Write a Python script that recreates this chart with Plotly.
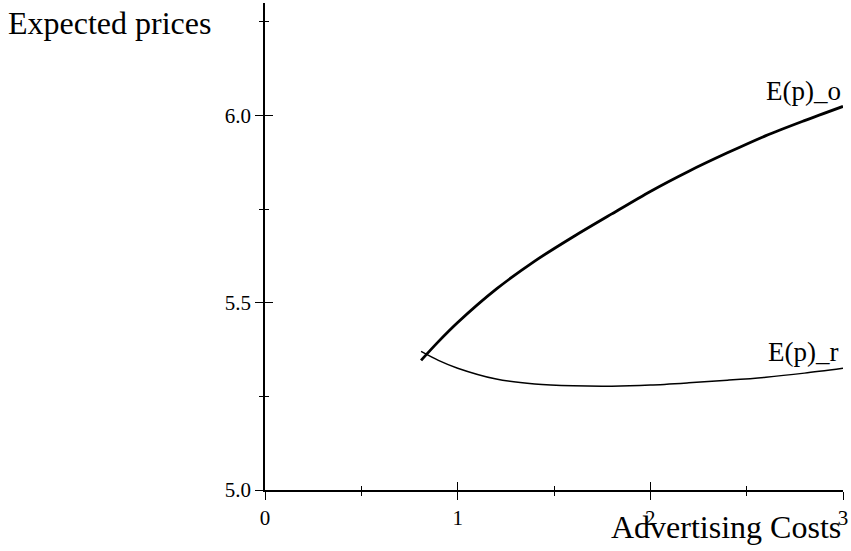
import plotly.graph_objects as go

# Data
adv_costs = [0.81, 0.9, 1.0, 1.2, 1.4, 1.6, 1.8, 2.0, 2.2, 2.4, 2.6, 2.8, 3.0]
price_o = [5.346, 5.396, 5.447, 5.536, 5.611, 5.676, 5.737, 5.797, 5.851, 5.900, 5.946, 5.986, 6.024]
price_r = [5.370, 5.346, 5.325, 5.296, 5.283, 5.278, 5.277, 5.280, 5.286, 5.293, 5.301, 5.312, 5.325]
label_o = "E(p)_o"
label_r = "E(p)_r"
x_title = "Advertising Costs"
y_title = "Expected prices"
x_range = [0, 3]
y_range = [5.0, 6.3]

FONT = "Liberation Serif, Times New Roman, serif"

fig = go.Figure()
fig.add_trace(go.Scatter(x=adv_costs, y=price_o, mode="lines",
                         line=dict(color="black", width=2.8, shape="spline", smoothing=0.8),
                         showlegend=False, hoverinfo="skip"))
fig.add_trace(go.Scatter(x=adv_costs, y=price_r, mode="lines",
                         line=dict(color="black", width=1.5, shape="spline", smoothing=0.8),
                         showlegend=False, hoverinfo="skip", xaxis="x2", yaxis="y2"))

axis_common = dict(showgrid=False, zeroline=False, showline=True, linecolor="black", linewidth=1.6,
                   tickcolor="black", tickwidth=1.3, ticklen=8,
                   tickfont=dict(family=FONT, size=21, color="black"))

fig.update_layout(
    width=851, height=551,
    margin=dict(l=265, r=6, t=3, b=61),
    paper_bgcolor="white", plot_bgcolor="white",
    xaxis=dict(range=x_range, tick0=0, dtick=1, ticks="outside",
               minor=dict(dtick=0.5, ticks="outside", ticklen=4, tickcolor="black", tickwidth=1.3),
               **axis_common),
    yaxis=dict(range=y_range, tick0=5.0, dtick=0.5, tickformat=".1f", ticks="outside",
               minor=dict(dtick=0.25, ticks="outside", ticklen=4, tickcolor="black", tickwidth=1.3),
               **axis_common),
    xaxis2=dict(range=x_range, overlaying="x", anchor="y2", side="bottom", tick0=0, dtick=1, ticks="inside",
                showticklabels=False,
                minor=dict(dtick=0.5, ticks="inside", ticklen=4, tickcolor="black", tickwidth=1.3),
                **axis_common),
    yaxis2=dict(range=y_range, overlaying="y", anchor="x2", side="left", tick0=5.0, dtick=0.5, ticks="inside",
                showticklabels=False,
                minor=dict(dtick=0.25, ticks="inside", ticklen=4, tickcolor="black", tickwidth=1.3),
                **axis_common),
)

fig.add_annotation(x=adv_costs[-1], y=price_o[-1], text=label_o, showarrow=False, xanchor="right",
                   yanchor="middle", yshift=15, font=dict(family=FONT, size=27, color="black"))
fig.add_annotation(x=adv_costs[-1], y=price_r[-1], text=label_r, showarrow=False, xanchor="right",
                   yanchor="middle", yshift=16, xshift=-3, font=dict(family=FONT, size=27, color="black"))
fig.add_annotation(xref="paper", yref="paper", x=0, y=1, text=y_title, showarrow=False, xanchor="right",
                   yanchor="middle", xshift=-52, yshift=-20, font=dict(family=FONT, size=32, color="black"))
fig.add_annotation(xref="paper", yref="paper", x=1, y=0, text=x_title, showarrow=False, xanchor="right",
                   yanchor="middle", xshift=0, yshift=-37, font=dict(family=FONT, size=32, color="black"))

fig.write_html("out.html", config={"displayModeBar": False},
               post_script="document.body.style.margin='0';document.body.style.overflow='hidden';")
